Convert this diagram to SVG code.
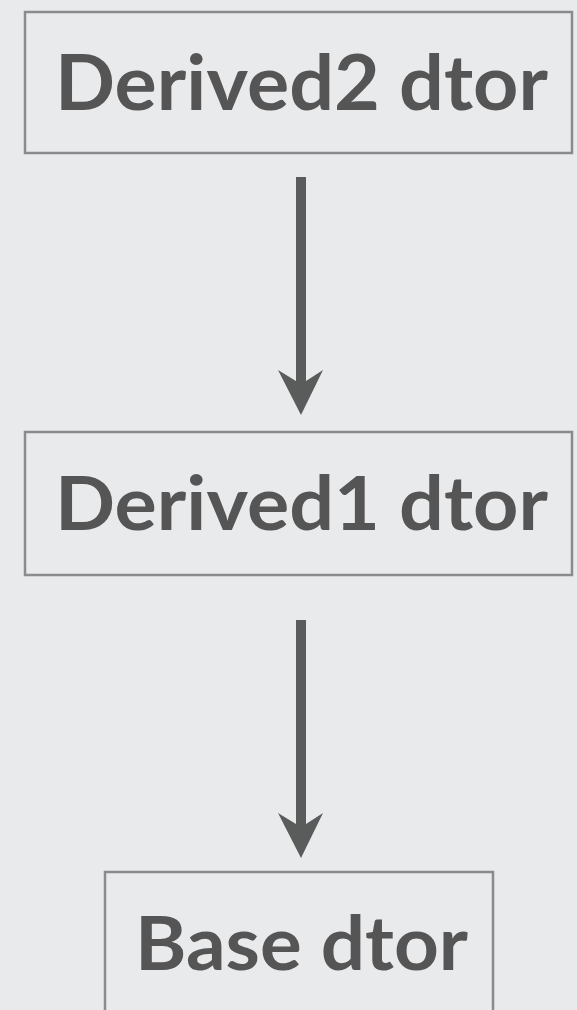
<svg xmlns="http://www.w3.org/2000/svg" width="577" height="1010" viewBox="0 0 577 1010">
  <style>
    .box { fill: #e9eaec; stroke: #8a8b8c; stroke-width: 2.5; }
    .label { font-family: Lato, "Open Sans", "Liberation Sans", sans-serif; font-weight: bold; fill: #555555; }
    .arrow { fill: #5a5c5c; stroke: none; }
  </style>
  <defs>
    <path id="arrowShape" d="M-5,0 H5 V204 L22,193 L0,238 L-23,193 L-5,204 Z"/>
  </defs>
  <rect x="0" y="0" width="577" height="1010" fill="#e9eaec"/>
  <g id="node-derived2">
    <rect class="box" x="25" y="12" width="547" height="141"/>
    <text class="label" x="55" y="110" font-size="76" textLength="493" lengthAdjust="spacingAndGlyphs">Derived2 dtor</text>
  </g>
  <g id="node-derived1">
    <rect class="box" x="25" y="432" width="547" height="143"/>
    <text class="label" x="55" y="530" font-size="75" textLength="493" lengthAdjust="spacingAndGlyphs">Derived1 dtor</text>
  </g>
  <g id="node-base">
    <rect class="box" x="105" y="872" width="388" height="150"/>
    <text class="label" x="135" y="970" font-size="74" textLength="333" lengthAdjust="spacingAndGlyphs">Base dtor</text>
  </g>
  <g id="connectors">
    <use href="#arrowShape" class="arrow" x="301" y="177"/>
    <use href="#arrowShape" class="arrow" x="301" y="620"/>
  </g>
</svg>
